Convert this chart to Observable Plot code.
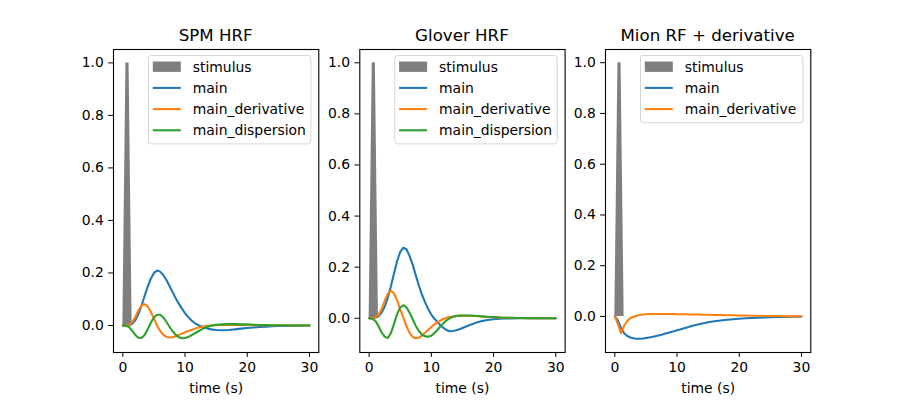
<!DOCTYPE html>
<html><head><meta charset="utf-8">
<script src="https://cdn.jsdelivr.net/npm/d3@7"></script>
<script src="https://cdn.jsdelivr.net/npm/@observablehq/plot@0.6"></script>
<style>
body{margin:0;background:#fff;}
#fig{position:relative;width:900px;height:400px;overflow:hidden;background:#fff;}
</style></head><body><div id="fig"></div>
<script>
// ---- data ----
const time = [0,0.5,1,1.5,2,2.5,3,3.5,4,4.5,5,5.5,6,6.5,7,7.5,8,8.5,9,9.5,10,10.5,11,11.5,12,12.5,13,13.5,14,14.5,15,
  16,17,18,19,20,21,22,23,24,25,26,27,28,29,30];

const stimTime = [0, 0.5, 1, 1.5, 30];
const stimValue = [0, 1, 1, 0, 0];

const spmMain = [0,0,0.001,0.006,0.02,0.043,0.075,0.112,0.148,0.178,0.2,0.209,0.205,0.192,0.173,0.15,0.127,0.104,0.083,0.064,0.047,0.032,0.02,0.01,0.003,-0.003,-0.007,-0.011,-0.014,-0.016,-0.017,
  -0.018,-0.017,-0.015,-0.012,-0.01,-0.008,-0.006,-0.005,-0.003,-0.002,-0.0015,-0.001,-0.0005,-0.0002,0];
const spmDeriv = [0,0,0.002,0.012,0.032,0.057,0.076,0.081,0.072,0.052,0.026,0,-0.021,-0.036,-0.043,-0.046,-0.045,-0.041,-0.036,-0.031,-0.026,-0.021,-0.017,-0.013,-0.009,-0.006,-0.004,-0.002,-0.001,0,0.001,
  0.002,0.002,0.002,0.002,0.002,0.001,0.001,0.001,0.001,0.0005,0.0005,0,0,0,0];
const spmDisp = [0,-0.001,-0.006,-0.02,-0.036,-0.047,-0.048,-0.036,-0.014,0.01,0.03,0.041,0.041,0.031,0.014,-0.005,-0.022,-0.036,-0.045,-0.049,-0.048,-0.044,-0.038,-0.031,-0.024,-0.017,-0.011,-0.006,-0.002,0.001,0.003,
  0.004,0.005,0.005,0.004,0.004,0.003,0.002,0.002,0.001,0.001,0.0005,0,0,0,0];

const gloverMain = [0,0,0.002,0.008,0.022,0.045,0.08,0.125,0.175,0.224,0.26,0.276,0.27,0.244,0.21,0.168,0.128,0.092,0.062,0.036,0.014,-0.002,-0.015,-0.028,-0.039,-0.047,-0.051,-0.05,-0.047,-0.043,-0.038,
  -0.028,-0.019,-0.012,-0.007,-0.004,-0.002,-0.001,-0.0005,0,0,0,0,0,0,0];
const gloverDeriv = [0,0,0.003,0.013,0.035,0.068,0.097,0.108,0.097,0.07,0.036,0.002,-0.031,-0.057,-0.073,-0.078,-0.076,-0.068,-0.057,-0.045,-0.034,-0.024,-0.015,-0.008,-0.002,0.002,0.005,0.007,0.009,0.01,0.01,
  0.01,0.009,0.007,0.005,0.004,0.003,0.002,0.001,0.001,0.0005,0,0,0,0,0];
const gloverDisp = [0,-0.002,-0.01,-0.03,-0.055,-0.072,-0.077,-0.058,-0.022,0.016,0.042,0.051,0.043,0.022,-0.004,-0.03,-0.05,-0.064,-0.071,-0.072,-0.068,-0.058,-0.045,-0.031,-0.018,-0.007,0.001,0.006,0.009,0.011,0.011,
  0.011,0.01,0.008,0.006,0.005,0.003,0.002,0.002,0.001,0.001,0,0,0,0,0];

const mionMain = [0,-0.016,-0.046,-0.066,-0.077,-0.083,-0.086,-0.088,-0.088,-0.087,-0.085,-0.083,-0.081,-0.078,-0.075,-0.072,-0.068,-0.065,-0.061,-0.058,-0.054,-0.051,-0.047,-0.044,-0.04,-0.037,-0.034,-0.031,-0.028,-0.026,-0.023,
  -0.019,-0.016,-0.013,-0.011,-0.009,-0.007,-0.006,-0.005,-0.004,-0.003,-0.002,-0.0015,-0.001,-0.0005,0];
const mionDeriv = [0,-0.03,-0.066,-0.036,-0.017,-0.007,-0.001,0.003,0.006,0.008,0.009,0.01,0.01,0.01,0.01,0.01,0.01,0.01,0.0095,0.0095,0.009,0.009,0.0085,0.0085,0.008,0.008,0.0075,0.0075,0.007,0.007,0.0065,
  0.006,0.0055,0.005,0.0045,0.004,0.0035,0.003,0.0025,0.002,0.002,0.0015,0.001,0.001,0.0005,0];

const titles = ["SPM HRF", "Glover HRF", "Mion RF + derivative"];
const seriesNames = ["main", "main_derivative", "main_dispersion"];
const stimulusLabel = "stimulus";
const xLabel = "time (s)";
const xTicks = [0, 10, 20, 30];
const yTicks = [0, 0.2, 0.4, 0.6, 0.8, 1.0];

// ---- layout / style ----
const colors = ["#1f77b4", "#ff7f0e", "#2ca02c"];
const FONT = "DejaVu Sans";
const panels = [
  {series: [spmMain, spmDeriv, spmDisp], yDomain: [-0.103, 1.051], left: 0, width: 322, mL: 113, mR: 3.7},
  {series: [gloverMain, gloverDeriv, gloverDisp], yDomain: [-0.134, 1.052], left: 322, width: 246, mL: 37.3, mR: 3.4},
  {series: [mionMain, mionDeriv], yDomain: [-0.142, 1.052], left: 568, width: 332, mL: 37, mR: 89.7}
];
const mT = 49, mB = 48, H = 400;

const fig = document.getElementById("fig");
const frames = [];

panels.forEach((p, k) => {
  const stimRows = stimTime.map((t, i) => ({t, v: stimValue[i]}));
  const lineMarks = p.series.map((vals, j) =>
    Plot.line(time.map((t, i) => ({t, v: vals[i]})), {x: "t", y: "v", stroke: colors[j], strokeWidth: 2.08})
  );
  const svg = Plot.plot({
    width: p.width, height: H,
    marginLeft: p.mL, marginRight: p.mR, marginTop: mT, marginBottom: mB,
    style: {fontFamily: FONT, fontSize: "13.9px", background: "transparent", overflow: "visible"},
    x: {domain: [-1.5, 31.5]},
    y: {domain: p.yDomain},
    marks: [
      Plot.areaY(stimRows, {x: "t", y: "v", fill: "black", fillOpacity: 0.5}),
      ...lineMarks,
      Plot.frame({stroke: "black", strokeWidth: 1.1}),
      Plot.axisX({ticks: xTicks, tickSize: 4.86, tickPadding: 4.86, label: xLabel, labelAnchor: "center", labelArrow: "none", labelOffset: 40, fontSize: 13.9}),
      Plot.axisY({ticks: yTicks, tickFormat: d3.format(".1f"), tickSize: 4.86, tickPadding: 4.86, label: null, fontSize: 13.9})
    ]
  });
  svg.style.position = "absolute";
  svg.style.left = p.left + "px";
  svg.style.top = "0px";
  svg.style.maxWidth = "none";
  fig.appendChild(svg);
  frames.push({x0: p.left + p.mL, x1: p.left + p.width - p.mR, n: p.series.length});
});

// ---- overlay: titles and legends ----
const ov = d3.create("svg").attr("width", 900).attr("height", 400)
  .style("position", "absolute").style("left", "0px").style("top", "0px")
  .style("font-family", FONT);

frames.forEach((f, k) => {
  ov.append("text").attr("x", (f.x0 + f.x1) / 2).attr("y", 40.7)
    .attr("text-anchor", "middle").attr("font-size", 16.67).attr("fill", "black").text(titles[k]);
  const lw = 162.4;
  const rows = f.n + 1;
  const lx = f.x1 - 7.5 - lw + 0.1;
  const ly = 55.5;
  const lh = rows * 21.2 + 3.6;
  const g = ov.append("g");
  g.append("rect").attr("x", lx).attr("y", ly).attr("width", lw).attr("height", lh)
    .attr("rx", 2.8).attr("fill", "white").attr("fill-opacity", 0.8)
    .attr("stroke", "#cccccc").attr("stroke-opacity", 0.8).attr("stroke-width", 1);
  const labels = [stimulusLabel, ...seriesNames.slice(0, f.n)];
  labels.forEach((lab, i) => {
    const cy = ly + 11.2 + i * 21.2;
    if (i === 0) {
      g.append("rect").attr("x", lx + 4.3).attr("y", cy - 5.2).attr("width", 28).attr("height", 10.4)
        .attr("fill", "black").attr("fill-opacity", 0.5);
    } else {
      g.append("line").attr("x1", lx + 4.3).attr("x2", lx + 32.3).attr("y1", cy).attr("y2", cy)
        .attr("stroke", colors[i - 1]).attr("stroke-width", 2.08);
    }
    g.append("text").attr("x", lx + 44.3).attr("y", cy + 4.8).attr("font-size", 13.9)
      .attr("fill", "black").text(lab);
  });
});
fig.appendChild(ov.node());
</script></body></html>
